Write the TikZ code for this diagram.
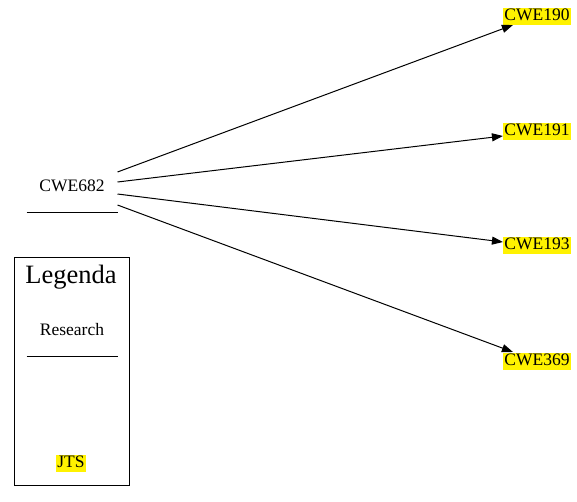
\documentclass[tikz,border=0pt]{standalone}
\usepackage{fontspec}
\setmainfont{Liberation Serif}
\usetikzlibrary{arrows.meta}
\begin{document}
\begin{tikzpicture}[x=1pt,y=-1pt,line width=1pt,>={Triangle[length=11pt,width=8pt]},
  lbl/.style={font=\fontsize{17.5}{20}\selectfont,text height=12pt,text depth=3pt},
  rec/.style={lbl,minimum width=90pt,minimum height=50pt,inner sep=0pt},
  cwe/.style={lbl,fill=yellow,inner sep=1pt}]
\useasboundingbox (0,0) rectangle (577,501);
% nut nguon, gach duoi
\node[rec] (cwe682) at (72,187) {CWE682};
\draw (cwe682.south west)--(cwe682.south east);
% cac nut dich
\node[cwe] (cwe190) at (537,16) {CWE190};
\node[cwe] (cwe191) at (537,131) {CWE191};
\node[cwe] (cwe193) at (537,245) {CWE193};
\node[cwe] (cwe369) at (537,361) {CWE369};
% cac mui ten
\draw[->] ([yshift=15pt]cwe682.east) -- ([xshift=10pt]cwe190.south west);
\draw[->] ([yshift=5pt]cwe682.east) -- ([yshift=-5pt]cwe191.west);
\draw[->] ([yshift=-7pt]cwe682.east) -- ([yshift=3pt]cwe193.west);
\draw[->] ([yshift=-18pt]cwe682.east) -- ([xshift=10pt]cwe369.north west);
% hop chu thich
\node[draw,minimum width=115pt,minimum height=228pt] (legend) at (71.5,371) {};
\node[font=\fontsize{26.5}{30}\selectfont] (legenda) at (71,277) {Legenda};
\node[rec] (research) at (72,331) {Research};
\draw (research.south west)--(research.south east);
\node[cwe] (jts) at (71,463) {JTS};
\end{tikzpicture}
\end{document}
